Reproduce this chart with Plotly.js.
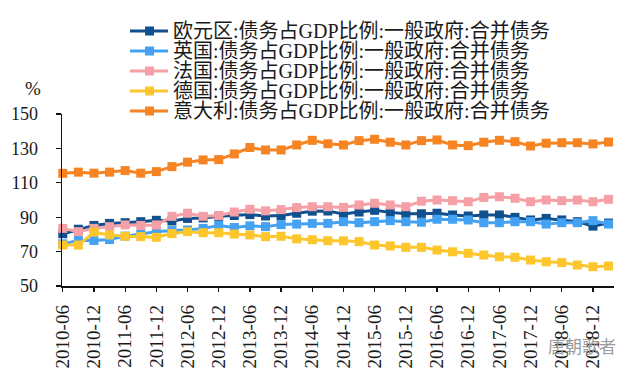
<!DOCTYPE html>
<html>
<head>
<meta charset="utf-8">
<script src="https://cdn.plot.ly/plotly-3.0.1.min.js"></script>
<style>
html, body { margin: 0; padding: 0; background: #ffffff; }
#chart { width: 639px; height: 373px; }
</style>
</head>
<body>
<div id="chart"></div>
<script>
// ---- data ----
const periods = [
  "2010-06","2010-09","2010-12","2011-03","2011-06","2011-09","2011-12","2012-03",
  "2012-06","2012-09","2012-12","2013-03","2013-06","2013-09","2013-12","2014-03",
  "2014-06","2014-09","2014-12","2015-03","2015-06","2015-09","2015-12","2016-03",
  "2016-06","2016-09","2016-12","2017-03","2017-06","2017-09","2017-12","2018-03",
  "2018-06","2018-09","2018-12","2019-03"
];
const tickLabels = [
  "2010-06","2010-12","2011-06","2011-12","2012-06","2012-12","2013-06","2013-12",
  "2014-06","2014-12","2015-06","2015-12","2016-06","2016-12","2017-06","2017-12",
  "2018-06","2018-12"
];
const yTicks = [50, 70, 90, 110, 130, 150];

const seriesNames = [
  "欧元区:债务占GDP比例:一般政府:合并债务",
  "英国:债务占GDP比例:一般政府:合并债务",
  "法国:债务占GDP比例:一般政府:合并债务",
  "德国:债务占GDP比例:一般政府:合并债务",
  "意大利:债务占GDP比例:一般政府:合并债务"
];

const eurozone = [80.4, 83.0, 85.2, 86.4, 86.8, 87.4, 88.2, 87.8, 89.3, 89.6, 90.5, 91.0,
                  91.5, 90.7, 91.0, 92.3, 93.5, 93.6, 91.8, 93.0, 94.0, 92.8, 92.0, 92.0,
                  92.3, 91.3, 90.7, 91.3, 91.3, 89.9, 88.4, 89.3, 88.4, 87.4, 84.8, 86.6];
const uk       = [74.5, 76.5, 76.5, 77.0, 79.0, 80.2, 81.5, 82.2, 82.6, 83.5, 85.2, 84.0,
                  85.0, 84.5, 85.7, 86.0, 86.4, 86.4, 87.4, 86.8, 87.4, 88.0, 87.4, 87.1,
                  88.8, 88.8, 88.4, 86.8, 86.8, 87.4, 87.4, 86.0, 86.8, 86.8, 88.0, 86.0];
const france   = [83.5, 81.6, 83.5, 84.5, 85.5, 85.2, 85.5, 90.5, 92.3, 90.5, 91.0, 93.0,
                  94.6, 93.7, 94.4, 95.6, 96.1, 96.1, 95.7, 97.1, 98.1, 97.1, 96.1, 99.3,
                  100.0, 99.6, 99.0, 101.5, 101.9, 101.0, 99.0, 100.0, 99.6, 100.0, 99.0, 100.4];
const germany  = [73.8, 73.8, 81.3, 79.7, 78.9, 78.7, 78.3, 80.5, 81.6, 81.0, 81.0, 80.2,
                  79.7, 78.7, 78.9, 77.4, 76.9, 76.3, 76.3, 75.8, 73.8, 73.3, 72.5, 72.5,
                  70.9, 69.9, 69.0, 68.0, 67.0, 66.7, 65.1, 64.1, 63.6, 62.2, 61.2, 61.6];
const italy    = [115.5, 116.2, 115.6, 116.2, 117.1, 115.6, 116.5, 119.4, 122.0, 123.3, 123.5, 126.8,
                  130.5, 129.1, 129.1, 132.0, 134.7, 132.7, 132.0, 134.5, 135.3, 133.6, 132.0, 134.5,
                  134.9, 132.0, 131.6, 133.6, 134.7, 133.9, 131.4, 133.0, 133.3, 133.3, 132.6, 133.7];

// ---- styling ----
const seriesValues = [eurozone, uk, france, germany, italy];
const colors = ["#11508f", "#45a2f2", "#f5a0a6", "#fcc62c", "#f68423"];

const W = 639, H = 373;
const plotL = 62, plotR = 614, plotT = 114, plotB = 286;
const px2x = px => (px - plotL) / (plotR - plotL);
const py2y = py => (plotB - py) / (plotB - plotT);

const serif = "Liberation Serif, Times New Roman, serif";
const cjk = "Liberation Serif, Noto Sans CJK SC, serif";

const traces = seriesValues.map((vals, k) => ({
  type: "scatter",
  mode: "lines+markers",
  name: seriesNames[k],
  x: periods,
  y: vals,
  line: { color: colors[k], width: 3 },
  marker: { color: colors[k], symbol: "square", size: 9 },
  cliponaxis: false,
  showlegend: false
}));

// custom legend (rows tighter than Plotly's legend allows)
const shapes = [];
const annotations = [];
seriesNames.forEach((nm, k) => {
  const rowY = 31 + 20 * k;
  shapes.push({
    type: "line", xref: "paper", yref: "paper",
    x0: px2x(130), x1: px2x(168), y0: py2y(rowY), y1: py2y(rowY),
    line: { color: colors[k], width: 3 }
  });
  shapes.push({
    type: "rect", xref: "paper", yref: "paper",
    x0: px2x(145), x1: px2x(154), y0: py2y(rowY - 4.5), y1: py2y(rowY + 4.5),
    line: { width: 0 }, fillcolor: colors[k]
  });
  annotations.push({
    xref: "paper", yref: "paper", x: px2x(171), y: py2y(rowY),
    xanchor: "left", yanchor: "middle", showarrow: false,
    text: nm, font: { family: cjk, size: 20, color: "#1a1a1a" }
  });
});
annotations.push({
  xref: "paper", yref: "paper", x: px2x(33), y: py2y(88),
  xanchor: "center", yanchor: "middle", showarrow: false,
  text: "%", font: { family: serif, size: 19, color: "#1a1a1a" }
});
annotations.push({
  xref: "paper", yref: "paper", x: px2x(618), y: py2y(345),
  xanchor: "right", yanchor: "middle", showarrow: false,
  text: "唐朝歌者", font: { family: "Noto Sans CJK SC", size: 17, color: "#9a9a9a" }
});

const layout = {
  width: W, height: H,
  margin: { l: plotL, r: W - plotR, t: plotT, b: H - plotB, pad: 0 },
  paper_bgcolor: "#ffffff",
  plot_bgcolor: "#ffffff",
  showlegend: false,
  xaxis: {
    type: "category",
    range: [-0.05, 35.35],
    tickmode: "array",
    tickvals: tickLabels,
    ticktext: tickLabels,
    tickangle: -90,
    ticks: "outside", ticklen: 4, tickwidth: 1.3, tickcolor: "#111",
    showline: true, linecolor: "#111", linewidth: 1.5,
    showgrid: false, zeroline: false,
    ticklabelstandoff: 6,
    tickfont: { family: serif, size: 19, color: "#1a1a1a" }
  },
  yaxis: {
    range: [50, 150],
    tickmode: "array",
    tickvals: yTicks,
    ticktext: yTicks.map(String),
    ticks: "outside", ticklen: 5, tickwidth: 1.3, tickcolor: "#111",
    showline: true, linecolor: "#111", linewidth: 1.5,
    showgrid: false, zeroline: false,
    ticklabelstandoff: 14,
    tickfont: { family: serif, size: 18, color: "#1a1a1a" }
  },
  shapes: shapes,
  annotations: annotations
};

Plotly.newPlot("chart", traces, layout, { displayModeBar: false, staticPlot: true });
</script>
</body>
</html>
